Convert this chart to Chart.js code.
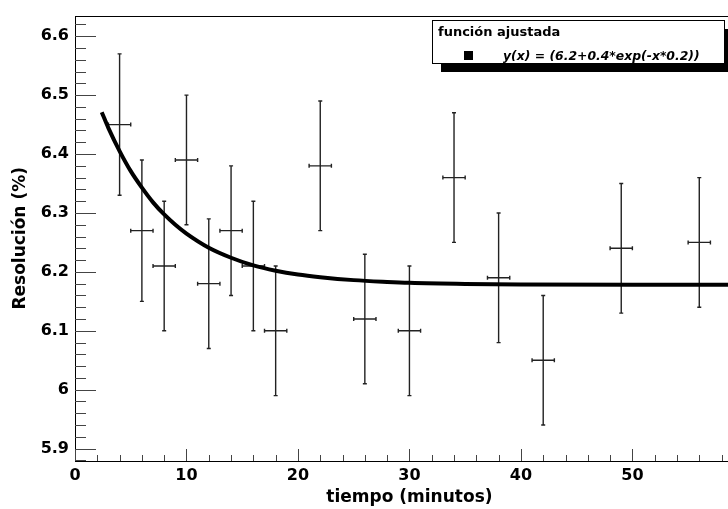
<!DOCTYPE html>
<html>
<head>
<meta charset="utf-8">
<title>Resolución vs tiempo</title>
<script src="https://cdn.jsdelivr.net/npm/chart.js@4.4.1/dist/chart.umd.min.js"></script>
<style>
  html, body { margin: 0; padding: 0; background: #fff; overflow: hidden; }
  #wrap { width: 760px; height: 509px; }
</style>
</head>
<body>
<div id="wrap"><canvas id="resChart" width="760" height="509"></canvas></div>
<script>
// medidas: tiempo (min), resolución (%) y sus errores
const tiempo = [4, 6, 8, 10, 12, 14, 16, 18, 22, 26, 30, 34, 38, 42, 49, 56];
const resolucion = [6.45, 6.27, 6.21, 6.39, 6.18, 6.27, 6.21, 6.10, 6.38, 6.12, 6.10, 6.36, 6.19, 6.05, 6.24, 6.25];
const errResolucion = [0.12, 0.12, 0.11, 0.11, 0.11, 0.11, 0.11, 0.11, 0.11, 0.11, 0.11, 0.11, 0.11, 0.11, 0.11, 0.11];
const errTiempo = [1, 1, 1, 1, 1, 1, 1, 1, 1, 1, 1, 1, 1, 1, 1, 1];

// curva ajustada
const ajusteX = [2.4, 3, 4, 5, 6, 7, 8, 9, 10, 12, 14, 16, 18, 20, 22, 25, 28, 30, 35, 40, 50, 60];
const ajusteY = [6.471, 6.444, 6.405, 6.371, 6.343, 6.318, 6.2975, 6.280, 6.265, 6.241, 6.224, 6.211,
  6.202, 6.1955, 6.191, 6.186, 6.183, 6.1815, 6.1796, 6.1787, 6.178, 6.178];

// ejes
const xTicks = [0, 10, 20, 30, 40, 50, 60];
const yTicks = [5.9, 6.0, 6.1, 6.2, 6.3, 6.4, 6.5, 6.6];

const tituloLeyenda = "función ajustada";
const textoLeyenda = "y(x) = (6.2+0.4*exp(-x*0.2))";

const fuente = "DejaVu Sans";

// error bars, inner ticks, frame and the legend box
const marcoPlugin = {
  id: "marco",
  beforeDatasetsDraw(chart) {
    const ctx = chart.ctx;
    const xs = chart.scales.x, ys = chart.scales.y;
    ctx.save();
    ctx.strokeStyle = "#222";
    ctx.lineWidth = 1.4;
    for (let i = 0; i < tiempo.length; i++) {
      const px = xs.getPixelForValue(tiempo[i]);
      const py = ys.getPixelForValue(resolucion[i]);
      const x0 = xs.getPixelForValue(tiempo[i] - errTiempo[i]);
      const x1 = xs.getPixelForValue(tiempo[i] + errTiempo[i]);
      const y0 = ys.getPixelForValue(resolucion[i] - errResolucion[i]);
      const y1 = ys.getPixelForValue(resolucion[i] + errResolucion[i]);
      ctx.beginPath();
      ctx.moveTo(px, y0); ctx.lineTo(px, y1);
      ctx.moveTo(px - 2, y0); ctx.lineTo(px + 2, y0);
      ctx.moveTo(px - 2, y1); ctx.lineTo(px + 2, y1);
      ctx.moveTo(x0, py); ctx.lineTo(x1, py);
      ctx.moveTo(x0, py - 2); ctx.lineTo(x0, py + 2);
      ctx.moveTo(x1, py - 2); ctx.lineTo(x1, py + 2);
      ctx.stroke();
    }
    ctx.restore();
  },
  afterDraw(chart) {
    const ctx = chart.ctx;
    const a = chart.chartArea;
    const xs = chart.scales.x, ys = chart.scales.y;
    ctx.save();

    // frame
    ctx.strokeStyle = "#000";
    ctx.lineWidth = 1;
    ctx.strokeRect(Math.round(a.left) + 0.5, Math.round(a.top) + 0.5,
      Math.round(a.right - a.left), Math.round(a.bottom - a.top));

    // ticks drawn inside the frame
    ctx.strokeStyle = "#444";
    ctx.beginPath();
    for (let v = 0; v <= 60.001; v += 2) {
      const px = Math.round(xs.getPixelForValue(v)) + 0.5;
      const len = Math.abs(v % 10) < 0.001 ? 12 : 6;
      ctx.moveTo(px, a.bottom);
      ctx.lineTo(px, a.bottom - len);
    }
    for (let k = 0; k <= 40; k++) {
      const v = 5.88 + k * 0.02;
      if (v > ys.max) break;
      const py = Math.round(ys.getPixelForValue(v)) + 0.5;
      const major = Math.abs(Math.round(v * 10) - v * 10) < 0.001;
      ctx.moveTo(a.left, py);
      ctx.lineTo(a.left + (major ? 21 : 11), py);
    }
    ctx.stroke();

    // legend box with shadow
    const bx = 432, by = 20, bw = 292, bh = 43;
    ctx.fillStyle = "#000";
    ctx.fillRect(bx + 9, by + 9, bw, bh);
    ctx.fillStyle = "#fff";
    ctx.fillRect(bx, by, bw, bh);
    ctx.strokeStyle = "#000";
    ctx.strokeRect(bx + 0.5, by + 0.5, bw, bh);

    ctx.fillStyle = "#000";
    ctx.textBaseline = "alphabetic";
    ctx.textAlign = "left";
    ctx.font = "bold 13px '" + fuente + "'";
    ctx.fillText(tituloLeyenda, 438, 36);
    ctx.fillRect(464, 51, 9, 9);
    ctx.font = "italic bold 12.4px '" + fuente + "'";
    ctx.fillText(textoLeyenda, 503, 60);

    ctx.restore();
  }
};

const ctx = document.getElementById("resChart").getContext("2d");
const resChart = new Chart(ctx, {
  type: "scatter",
  data: {
    datasets: [
      {
        label: "medidas",
        data: tiempo.map((t, i) => ({ x: t, y: resolucion[i] })),
        pointRadius: 0,
        showLine: false
      },
      {
        label: tituloLeyenda,
        data: ajusteX.map((t, i) => ({ x: t, y: ajusteY[i] })),
        showLine: true,
        borderColor: "#000",
        borderWidth: 4,
        pointRadius: 0,
        cubicInterpolationMode: "monotone",
        fill: false
      }
    ]
  },
  options: {
    responsive: false,
    animation: false,
    layout: { padding: { left: 0, top: 11, right: 14.6, bottom: 0 } },
    plugins: {
      legend: { display: false },
      tooltip: { enabled: false }
    },
    scales: {
      x: {
        type: "linear",
        min: 0,
        max: 60,
        afterBuildTicks: s => { s.ticks = xTicks.map(v => ({ value: v })); },
        afterFit: s => { s.height = 48; },
        grid: { display: false, drawTicks: false },
        border: { display: false },
        ticks: {
          color: "#000",
          padding: 5,
          maxRotation: 0,
          font: { family: fuente, weight: "bold", size: 16 },
          callback: v => String(v)
        },
        title: {
          display: true,
          text: "tiempo (minutos)",
          color: "#000",
          font: { family: fuente, weight: "bold", size: 17 },
          padding: { top: 0, bottom: 1 }
        }
      },
      y: {
        type: "linear",
        min: 5.879,
        max: 6.635,
        afterBuildTicks: s => { s.ticks = yTicks.map(v => ({ value: v })); },
        afterFit: s => { s.width = 75; },
        grid: { display: false, drawTicks: false },
        border: { display: false },
        ticks: {
          color: "#000",
          padding: 6,
          font: { family: fuente, weight: "bold", size: 16 },
          callback: v => String(Math.round(v * 10) / 10)
        },
        title: {
          display: true,
          text: "Resolución (%)",
          color: "#000",
          font: { family: fuente, weight: "bold", size: 17 },
          padding: { top: 10, bottom: 0 }
        }
      }
    }
  },
  plugins: [marcoPlugin]
});
</script>
</body>
</html>
